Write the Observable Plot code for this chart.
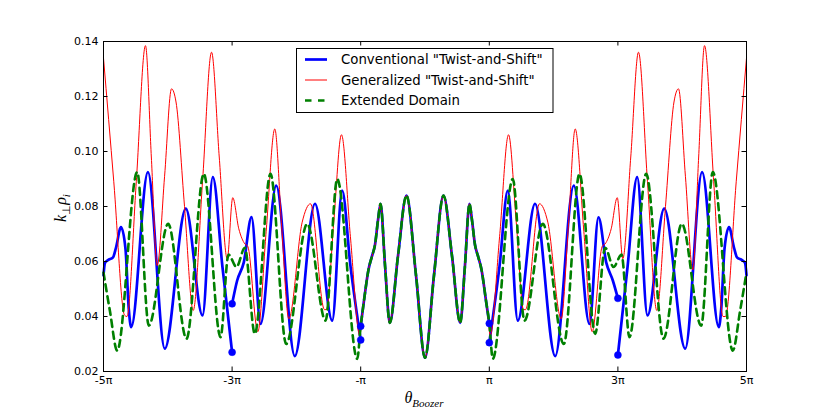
<!DOCTYPE html>
<html><head><meta charset="utf-8">
<script src="https://cdn.jsdelivr.net/npm/d3@7"></script>
<script src="https://cdn.jsdelivr.net/npm/@observablehq/plot@0.6"></script>
<style>body{margin:0;background:#fff;}</style>
</head><body><div id="chart"></div>
<script>
// theta in units of pi, k_perp*rho_i values
const centerTheta = [-1.0, -0.952, -0.879, -0.821, -0.778, -0.731, -0.692, -0.62, -0.548, -0.42, -0.288, -0.14, 0, 0.14, 0.288, 0.42, 0.548, 0.62, 0.692, 0.731, 0.778, 0.821, 0.879, 0.952, 1.0];
const centerK     = [0.0365, 0.0452, 0.057, 0.0622, 0.066, 0.075, 0.081, 0.058, 0.0377, 0.062, 0.084, 0.055, 0.0250, 0.055, 0.084, 0.062, 0.0377, 0.058, 0.081, 0.075, 0.066, 0.0622, 0.057, 0.0452, 0.0375];

const redLeftTheta = [-5.0, -4.84, -4.673, -4.635, -4.49, -4.347, -4.256, -4.165, -4.05, -3.942, -3.872, -3.74, -3.605, -3.46, -3.32, -3.2, -3.076, -2.99, -2.896, -2.802, -2.756, -2.6, -2.47, -2.336, -2.23, -2.118, -1.91, -1.781, -1.563, -1.532, -1.42, -1.299, -1.16, -1.014, -0.98];
const redLeftK     = [0.134, 0.089, 0.0405, 0.040, 0.089, 0.1385, 0.098, 0.0585, 0.091, 0.1228, 0.118, 0.080, 0.0422, 0.089, 0.1361, 0.098, 0.061, 0.0832, 0.0719, 0.0664, 0.0655, 0.0345, 0.071, 0.1082, 0.073, 0.0392, 0.0743, 0.081, 0.0425, 0.0425, 0.074, 0.1061, 0.069, 0.0331, 0.040];
const redRightTheta = [0.98, 1.014, 1.16, 1.299, 1.42, 1.532, 1.563, 1.781, 1.91, 2.118, 2.23, 2.336, 2.47, 2.6, 2.756, 2.802, 2.896, 2.99, 3.076, 3.2, 3.32, 3.46, 3.605, 3.74, 3.872, 3.942, 4.05, 4.165, 4.256, 4.347, 4.49, 4.635, 4.673, 4.84, 5.0];
const redRightK     = [0.040, 0.0331, 0.069, 0.1061, 0.074, 0.0425, 0.0425, 0.081, 0.0743, 0.0392, 0.073, 0.1082, 0.071, 0.0345, 0.0655, 0.0664, 0.0719, 0.0832, 0.061, 0.098, 0.1361, 0.089, 0.0422, 0.080, 0.118, 0.1228, 0.091, 0.0570, 0.098, 0.1385, 0.089, 0.040, 0.0400, 0.089, 0.134];

const greenLeftTheta = [-5.0, -4.9, -4.787, -4.476, -4.295, -3.994, -3.709, -3.44, -3.18, -3.056, -2.932, -2.802, -2.647, -2.403, -2.159, -1.832, -1.547, -1.365, -1.054];
const greenLeftK     = [0.056, 0.042, 0.0276, 0.0925, 0.0367, 0.0737, 0.0319, 0.0919, 0.0325, 0.0625, 0.058, 0.065, 0.0337, 0.0919, 0.030, 0.0737, 0.0385, 0.090, 0.0246];
const greenRightTheta = [1.054, 1.365, 1.547, 1.832, 2.159, 2.403, 2.647, 2.802, 2.932, 3.056, 3.18, 3.44, 3.709, 3.994, 4.295, 4.476, 4.787, 4.9, 5.0];
const greenRightK     = [0.0246, 0.090, 0.0385, 0.0737, 0.030, 0.0919, 0.0337, 0.065, 0.058, 0.0625, 0.0325, 0.0919, 0.0319, 0.0737, 0.0367, 0.0925, 0.0276, 0.042, 0.056];

const blue1Theta = [-5.0, -4.977, -4.93, -4.852, -4.806, -4.728, -4.658, -4.607, -4.569, -4.309, -4.047, -3.72, -3.46, -3.3, -3.15, -3.0];
const blue1K     = [0.055, 0.0595, 0.0605, 0.0615, 0.065, 0.0725, 0.0646, 0.0428, 0.0361, 0.0925, 0.0283, 0.0792, 0.0404, 0.0907, 0.058, 0.027];
const blue2Theta = [-3.0, -2.921, -2.818, -2.698, -2.558, -2.314, -2.025, -1.711, -1.443, -1.288, -1.16, -1.0];
const blue2K     = [0.0446, 0.0531, 0.0597, 0.0761, 0.0373, 0.0876, 0.0256, 0.081, 0.0385, 0.0858, 0.0585, 0.0315];
const blue4Theta = [1.0, 1.16, 1.288, 1.443, 1.711, 2.025, 2.314, 2.558, 2.698, 2.818, 2.921, 3.0];
const blue4K     = [0.0305, 0.0585, 0.0858, 0.0385, 0.081, 0.0256, 0.0876, 0.0373, 0.0761, 0.0597, 0.0531, 0.0466];
const blue5Theta = [3.0, 3.15, 3.3, 3.46, 3.72, 4.047, 4.309, 4.569, 4.607, 4.658, 4.728, 4.806, 4.852, 4.93, 4.977, 5.0];
const blue5K     = [0.026, 0.058, 0.0907, 0.0404, 0.0792, 0.0283, 0.0925, 0.0361, 0.0428, 0.0646, 0.0725, 0.065, 0.0615, 0.0605, 0.0595, 0.055];

const dotTheta = [-3, -3, -1, -1, 1, 1, 3, 3];
const dotK     = [0.027, 0.0446, 0.0315, 0.0365, 0.0375, 0.0305, 0.0466, 0.026];

const xTicks = [-5, -3, -1, 1, 3, 5];
const xTickLabels = ["-5π", "-3π", "-π", "π", "3π", "5π"];
const yTicks = [0.02, 0.04, 0.06, 0.08, 0.10, 0.12, 0.14];

const seriesNames = ['Conventional "Twist-and-Shift"', 'Generalized "Twist-and-Shift"', 'Extended Domain'];
const seriesColors = ["#0000ff", "#ff0000", "#008000"];

function rows(th, k, seg) { return th.map((t, i) => ({theta: t, k: k[i], seg})); }

const blueRows = [
  ...rows(blue1Theta, blue1K, "s1"),
  ...rows(blue2Theta, blue2K, "s2"),
  ...rows(centerTheta, centerK, "s3"),
  ...rows(blue4Theta, blue4K, "s4"),
  ...rows(blue5Theta, blue5K, "s5")
];
const redRows = rows([...redLeftTheta, ...centerTheta.slice(1, -1), ...redRightTheta],
                     [...redLeftK, ...centerK.slice(1, -1), ...redRightK], "r");
const greenRows = rows([...greenLeftTheta, ...centerTheta, ...greenRightTheta],
                       [...greenLeftK, ...centerK, ...greenRightK], "g");
const dotRows = rows(dotTheta, dotK, "d");

const W = 830, H = 415, mL = 103, mR = 84, mT = 41, mB = 44;
const pw = W - mL - mR, ph = H - mT - mB;
const tk = 4.5;

const svg = Plot.plot({
  width: W, height: H,
  marginLeft: mL, marginRight: mR, marginTop: mT, marginBottom: mB,
  x: {domain: [-5, 5]},
  y: {domain: [0.02, 0.14]},
  style: {fontFamily: "DejaVu Sans", fontSize: "11px", background: "white", color: "black"},
  marks: [
    Plot.line(blueRows, {x: "theta", y: "k", z: "seg", stroke: seriesColors[0], strokeWidth: 2.7, curve: "monotone-x"}),
    Plot.line(redRows, {x: "theta", y: "k", stroke: seriesColors[1], strokeWidth: 1, curve: "monotone-x"}),
    Plot.line(greenRows, {x: "theta", y: "k", stroke: seriesColors[2], strokeWidth: 2.6, strokeDasharray: "7,5", curve: "monotone-x"}),
    Plot.dot(dotRows, {x: "theta", y: "k", r: 3.5, fill: seriesColors[0], stroke: seriesColors[0], strokeWidth: 0.5}),
    Plot.frame({stroke: "black", strokeWidth: 1}),
    Plot.tickX(xTicks, {x: d => d, insetTop: ph - tk, stroke: "black"}),
    Plot.tickX(xTicks, {x: d => d, insetBottom: ph - tk, stroke: "black"}),
    Plot.tickY(yTicks, {y: d => d, insetRight: pw - tk, stroke: "black"}),
    Plot.tickY(yTicks, {y: d => d, insetLeft: pw - tk, stroke: "black"}),
    Plot.axisX({ticks: xTicks, tickFormat: d => xTickLabels[xTicks.indexOf(d)], tickSize: 0, tickPadding: 5, label: null, fontSize: 11}),
    Plot.axisY({ticks: yTicks, tickFormat: d => d.toFixed(2), tickSize: 0, tickPadding: 5, label: null, fontSize: 11})
  ]
});
document.getElementById("chart").appendChild(svg);

const s = d3.select(svg);
const mathFont = "Liberation Serif";
// x label
const xl = s.append("text").attr("x", 424).attr("y", 403).attr("text-anchor", "middle")
  .attr("font-family", mathFont).attr("font-style", "italic").attr("fill", "black");
xl.append("tspan").attr("font-size", 16).text("θ");
xl.append("tspan").attr("font-size", 11).attr("dy", 4).text("Boozer");
// y label
const yl = s.append("text").attr("transform", "translate(66,208) rotate(-90)").attr("text-anchor", "middle")
  .attr("font-family", mathFont).attr("font-style", "italic").attr("fill", "black");
yl.append("tspan").attr("font-size", 16).text("k");
yl.append("tspan").attr("font-size", 11).attr("dy", 4).attr("font-style", "normal").text("⊥");
yl.append("tspan").attr("font-size", 16).attr("dy", -4).text("ρ");
yl.append("tspan").attr("font-size", 11).attr("dy", 4).text("i");

// legend
const lg = s.append("g");
lg.append("rect").attr("x", 296.5).attr("y", 48.5).attr("width", 256.5).attr("height", 64)
  .attr("fill", "white").attr("stroke", "black").attr("stroke-width", 1);
const rowY = [59.5, 80, 100.5];
const widths = [2.7, 1, 2.6];
seriesNames.forEach((name, i) => {
  const ln = lg.append("line").attr("x1", 305).attr("x2", 327).attr("y1", rowY[i]).attr("y2", rowY[i])
    .attr("stroke", seriesColors[i]).attr("stroke-width", widths[i]);
  if (i === 2) ln.attr("stroke-dasharray", "6.5,6.5").attr("x2", 328);
  lg.append("text").attr("x", 341).attr("y", rowY[i]).attr("dy", "0.36em").attr("text-anchor", "start")
    .attr("font-family", "DejaVu Sans").attr("font-size", 13.3).attr("fill", "black").text(name);
});
</script>
</body></html>
